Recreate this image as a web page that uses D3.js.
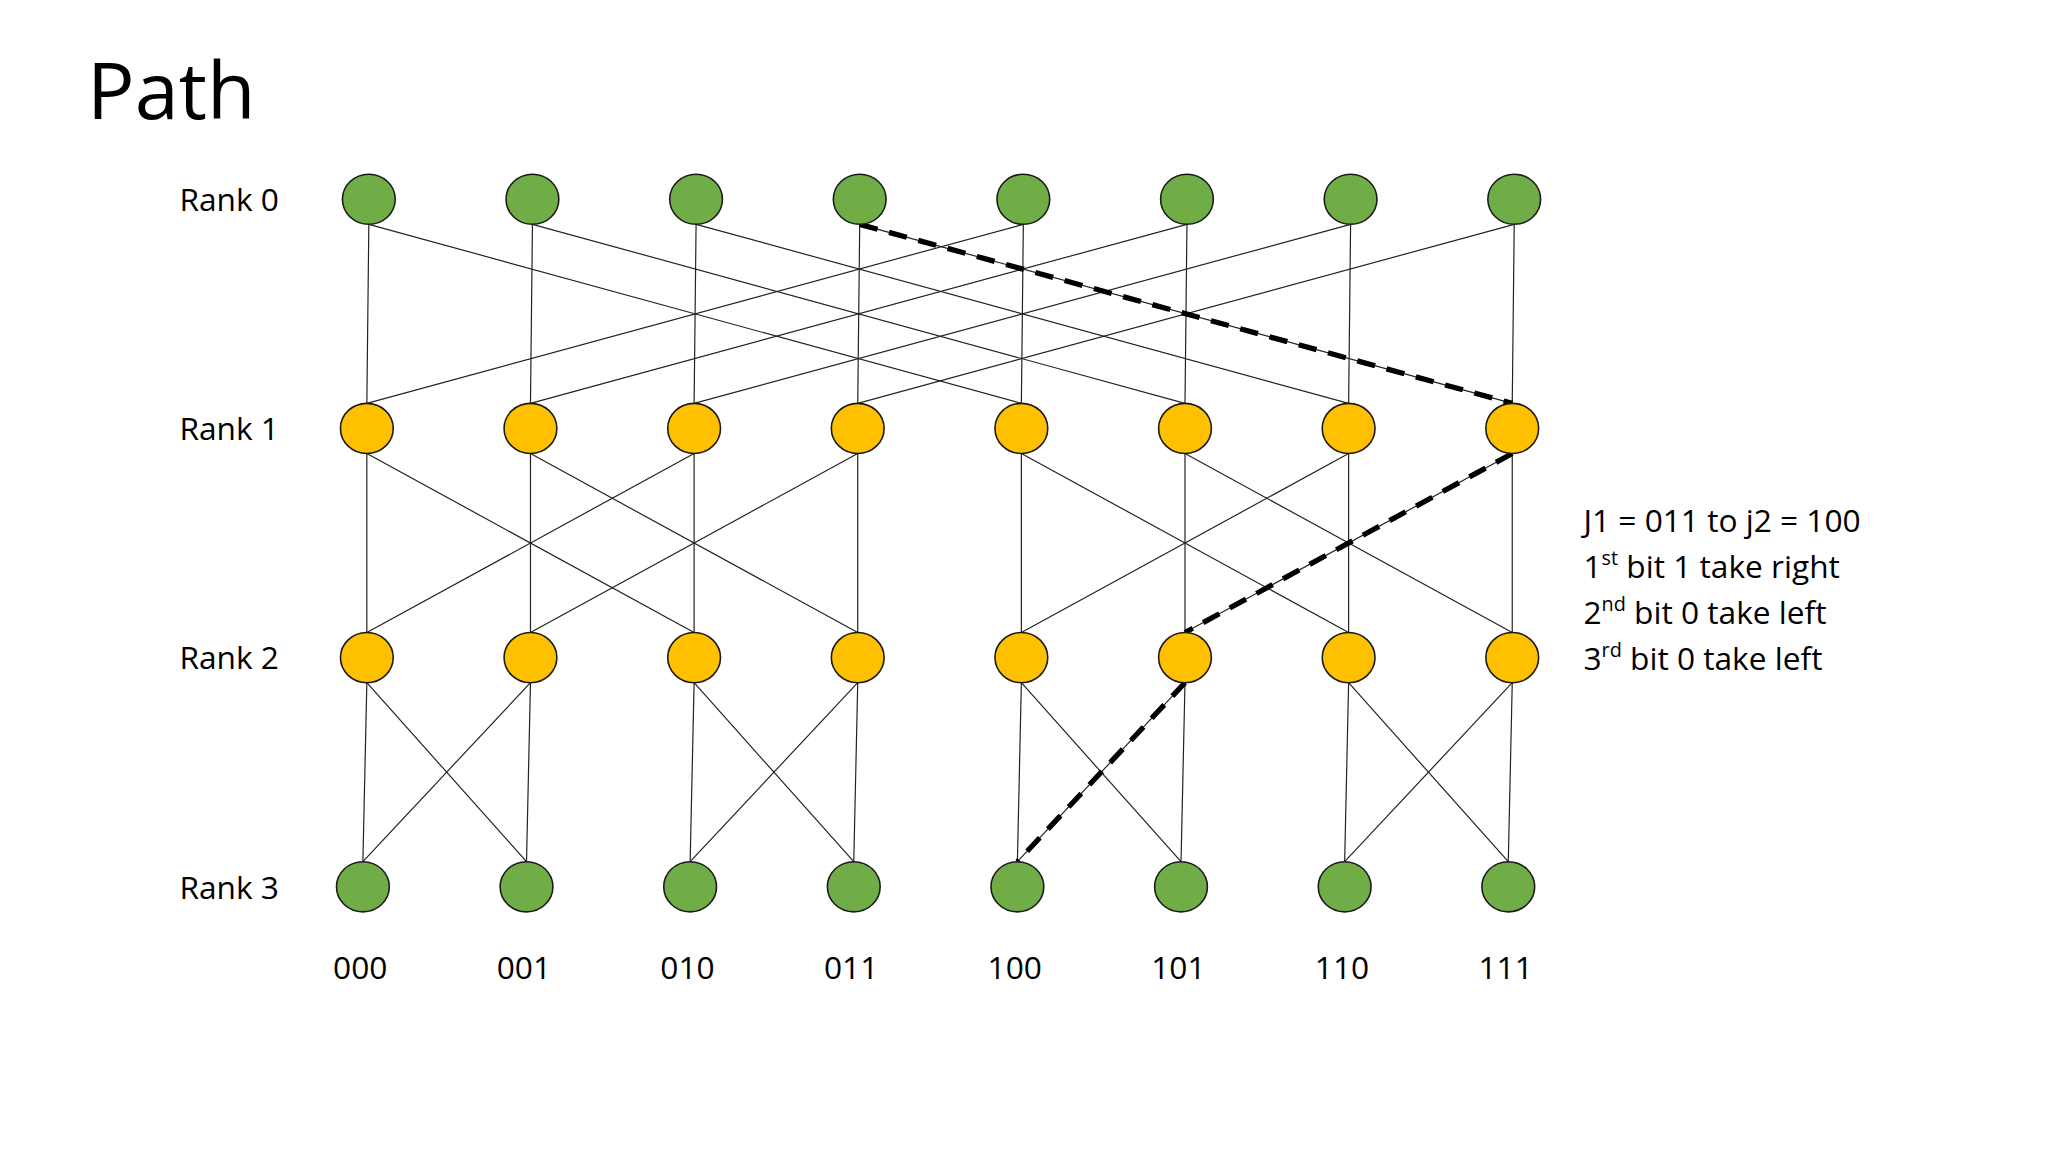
<!DOCTYPE html>
<html><head><meta charset="utf-8">
<script src="https://cdn.jsdelivr.net/npm/d3@7"></script>
<style>body{margin:0;background:#fff}text{font-family:"Open Sans",sans-serif}</style>
</head><body>
<svg id="chart"></svg>
<script>
var ranks = ["Rank 0", "Rank 1", "Rank 2", "Rank 3"],
    rankColors = ["#70ad47", "#ffc000", "#ffc000", "#70ad47"],
    bits = ["000", "001", "010", "011", "100", "101", "110", "111"],
    rankShift = [1.5, 0, 0, -3],        // per-rank x offset of nodes
    flipMask = [4, 2, 1],               // cross edge between rank r and r+1: i ^ mask
    pathNodes = [3, 7, 5, 4],           // dashed route 011 -> 100
    notes = ["J1 = 011 to j2 = 100", ["1", "st", " bit 1 take right"],
             ["2", "nd", " bit 0 take left"], ["3", "rd", " bit 0 take left"]];

var svg = d3.select("#chart").attr("width", 2048).attr("height", 1152)
    .attr("viewBox", "0 0 1552 873");

var x = d3.scalePoint().domain(bits).range([278, 1146]),
    y = d3.scalePoint().domain(ranks).range([151, 672]),
    rx = 20, ry = 19;

function nx(r, i) { return x(bits[i]) + rankShift[r]; }
function ny(r) { return y(ranks[r]); }

svg.append("text").attr("x", 66).attr("y", 90).attr("font-size", 60).text("Path");

var edges = [];
for (var r = 0; r < 3; r++) for (var i = 0; i < 8; i++) {
  edges.push([r, i, i]);
  edges.push([r, i, i ^ flipMask[r]]);
}
svg.selectAll("line.edge").data(edges).enter().append("line")
    .attr("class", "edge")
    .attr("x1", function(d) { return nx(d[0], d[1]); })
    .attr("y1", function(d) { return ny(d[0]) + ry; })
    .attr("x2", function(d) { return nx(d[0] + 1, d[2]); })
    .attr("y2", function(d) { return ny(d[0] + 1) - ry; })
    .attr("stroke", "#222").attr("stroke-width", 0.9);

var pathPts = [];
pathNodes.forEach(function(n, r) {
  if (r > 0) pathPts.push([nx(r, n), ny(r) - ry]);
  if (r < 3) pathPts.push([nx(r, n), ny(r) + ry]);
});
var segs = d3.pairs(pathPts).filter(function(p, k) { return k % 2 === 0; });
svg.selectAll("line.path").data(segs).enter().append("line")
    .attr("x1", function(d) { return d[0][0]; }).attr("y1", function(d) { return d[0][1]; })
    .attr("x2", function(d) { return d[1][0]; }).attr("y2", function(d) { return d[1][1]; })
    .attr("stroke", "#000").attr("stroke-width", 4).attr("stroke-dasharray", "14,9");

ranks.forEach(function(rk, r) {
  svg.append("text").attr("x", 136).attr("y", ny(r) + 9).attr("font-size", 24).text(rk);
  svg.selectAll("ellipse.r" + r).data(bits).enter().append("ellipse")
      .attr("cx", function(d, i) { return nx(r, i); }).attr("cy", ny(r))
      .attr("rx", rx).attr("ry", ry)
      .attr("fill", rankColors[r]).attr("stroke", "#1a1a1a").attr("stroke-width", 1.2);
});

svg.selectAll("text.bit").data(bits).enter().append("text")
    .attr("x", function(d) { return x(d) - 5; }).attr("y", 742)
    .attr("text-anchor", "middle").attr("font-size", 24).text(function(d) { return d; });

notes.forEach(function(n, k) {
  var t = svg.append("text").attr("x", 1200).attr("y", 403 + k * 35).attr("font-size", 24);
  if (typeof n === "string") { t.text(n); return; }
  t.append("tspan").text(n[0]);
  t.append("tspan").attr("font-size", 15).attr("dy", -10).text(n[1]);
  t.append("tspan").attr("dy", 10).text(n[2]);
});
</script>
</body></html>
